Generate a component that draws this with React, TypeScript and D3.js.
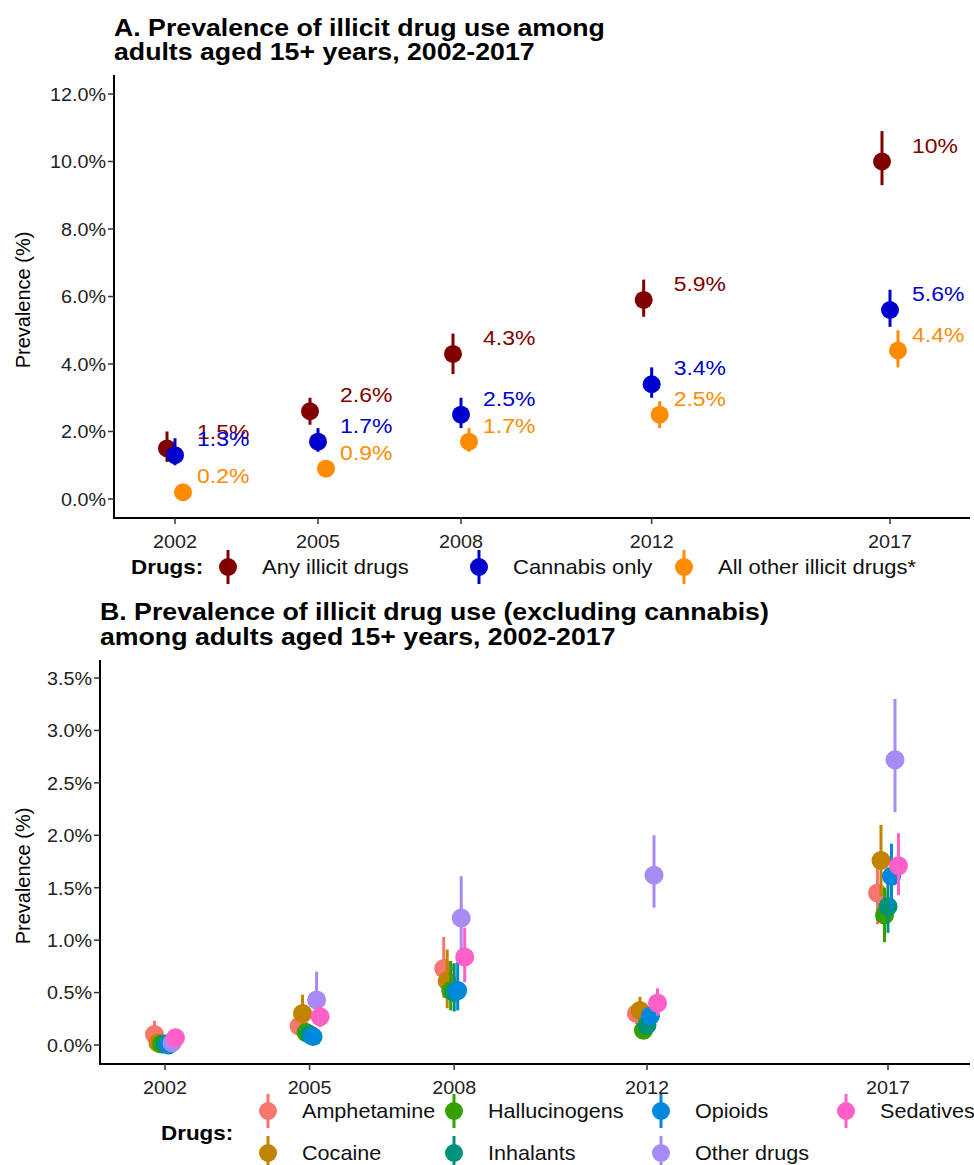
import * as d3 from "d3";
import type { ReactNode } from "react";

// ---- data ----
const years = [2002, 2005, 2008, 2012, 2017];

const seriesA = ["Any illicit drugs", "Cannabis only", "All other illicit drugs*"];
const colorsA = ["#800000", "#0000CD", "#FF8C00"];
const anyIllicit = [1.5, 2.6, 4.3, 5.9, 10.0];
const anyLow = [1.1, 2.2, 3.7, 5.4, 9.3];
const anyHigh = [2.0, 3.0, 4.9, 6.5, 10.9];
const cannabis = [1.3, 1.7, 2.5, 3.4, 5.6];
const cannabisLow = [1.0, 1.4, 2.1, 3.0, 5.1];
const cannabisHigh = [1.8, 2.1, 3.0, 3.9, 6.2];
const otherIllicit = [0.2, 0.9, 1.7, 2.5, 4.4];
const otherLow = [0.1, 0.8, 1.4, 2.1, 3.9];
const otherHigh = [0.3, 1.0, 2.1, 2.9, 5.0];
const labelsA = [
  ["1.5%", "2.6%", "4.3%", "5.9%", "10%"],
  ["1.3%", "1.7%", "2.5%", "3.4%", "5.6%"],
  ["0.2%", "0.9%", "1.7%", "2.5%", "4.4%"],
];
const ticksA = [0, 2, 4, 6, 8, 10, 12];

const seriesB = ["Amphetamine", "Cocaine", "Hallucinogens", "Inhalants", "Opioids", "Other drugs", "Sedatives"];
const colorsB = ["#F8766D", "#C08400", "#35A100", "#00937A", "#0088DD", "#A68BF5", "#FF5FC8"];
const amphetamine = [0.1, 0.18, 0.73, 0.3, 1.45];
const amphetamineLow = [0.0, 0.1, 0.45, 0.2, 1.15];
const amphetamineHigh = [0.23, 0.27, 1.03, 0.4, 1.75];
const cocaine = [0.02, 0.3, 0.61, 0.33, 1.76];
const cocaineLow = [0.0, 0.18, 0.35, 0.22, 1.42];
const cocaineHigh = [0.05, 0.48, 0.91, 0.46, 2.1];
const hallucinogens = [0.01, 0.12, 0.52, 0.14, 1.24];
const hallucinogensLow = [0.0, 0.06, 0.33, 0.08, 0.98];
const hallucinogensHigh = [0.03, 0.2, 0.8, 0.22, 1.5];
const inhalants = [0.01, 0.1, 0.5, 0.19, 1.32];
const inhalantsLow = [0.0, 0.05, 0.32, 0.12, 1.07];
const inhalantsHigh = [0.03, 0.18, 0.78, 0.28, 1.6];
const opioids = [0.0, 0.08, 0.52, 0.28, 1.61];
const opioidsLow = [0.0, 0.04, 0.33, 0.18, 1.3];
const opioidsHigh = [0.02, 0.15, 0.79, 0.38, 1.92];
const otherDrugs = [0.02, 0.43, 1.21, 1.62, 2.72];
const otherDrugsLow = [0.0, 0.2, 0.81, 1.31, 2.22];
const otherDrugsHigh = [0.05, 0.7, 1.61, 2.0, 3.3];
const sedatives = [0.07, 0.27, 0.84, 0.4, 1.71];
const sedativesLow = [0.02, 0.17, 0.6, 0.28, 1.43];
const sedativesHigh = [0.12, 0.38, 1.12, 0.54, 2.02];
const ticksB = [0, 0.5, 1, 1.5, 2, 2.5, 3, 3.5];

const FONT = "'Liberation Sans', Arial, Helvetica, sans-serif";

type Series = { name: string; color: string; val: number[]; lo: number[]; hi: number[] };

const dataA: Series[] = [
  { name: seriesA[0], color: colorsA[0], val: anyIllicit, lo: anyLow, hi: anyHigh },
  { name: seriesA[1], color: colorsA[1], val: cannabis, lo: cannabisLow, hi: cannabisHigh },
  { name: seriesA[2], color: colorsA[2], val: otherIllicit, lo: otherLow, hi: otherHigh },
];

const dataB: Series[] = [
  [amphetamine, amphetamineLow, amphetamineHigh],
  [cocaine, cocaineLow, cocaineHigh],
  [hallucinogens, hallucinogensLow, hallucinogensHigh],
  [inhalants, inhalantsLow, inhalantsHigh],
  [opioids, opioidsLow, opioidsHigh],
  [otherDrugs, otherDrugsLow, otherDrugsHigh],
  [sedatives, sedativesLow, sedativesHigh],
].map(([val, lo, hi], i) => ({ name: seriesB[i], color: colorsB[i], val, lo, hi }));

// the reference's text is a bit wider than Liberation Sans, so stretch it horizontally
function Txt({
  x, y, size, sx = 1, anchor = "start", bold = false, fill = "#111", children,
}: {
  x: number; y: number; size: number; sx?: number; anchor?: string; bold?: boolean; fill?: string; children: ReactNode;
}) {
  return (
    <text
      transform={`translate(${x},${y}) scale(${sx},1)`}
      fontFamily={FONT}
      fontSize={size}
      fontWeight={bold ? "bold" : "normal"}
      textAnchor={anchor}
      dominantBaseline="central"
      fill={fill}
    >
      {children}
    </text>
  );
}

function LegendKey({ x, y, color, r = 9 }: { x: number; y: number; color: string; r?: number }) {
  return (
    <g>
      <line x1={x} x2={x} y1={y - 17} y2={y + 17} stroke={color} strokeWidth={3} />
      <circle cx={x} cy={y} r={r} fill={color} />
    </g>
  );
}

function Axes({
  x, y, yTicks, left, right, top, bottom, titleY, fmt,
}: {
  x: d3.ScaleLinear<number, number>;
  y: d3.ScaleLinear<number, number>;
  yTicks: number[];
  left: number; right: number; top: number; bottom: number; titleY: number;
  fmt: (v: number) => string;
}) {
  return (
    <g>
      <line x1={left} x2={left} y1={top} y2={bottom + 1} stroke="#000" strokeWidth={2} />
      <line x1={left - 1} x2={right} y1={bottom} y2={bottom} stroke="#000" strokeWidth={2} />
      {yTicks.map((t) => (
        <g key={t}>
          <line x1={left - 6} x2={left} y1={y(t)} y2={y(t)} stroke="#333" strokeWidth={1.5} />
          <Txt x={left - 8} y={y(t)} size={19} sx={1.04} anchor="end" fill="#222">
            {fmt(t)}
          </Txt>
        </g>
      ))}
      {years.map((yr) => (
        <g key={yr}>
          <line x1={x(yr)} x2={x(yr)} y1={bottom} y2={bottom + 6} stroke="#333" strokeWidth={1.5} />
          <Txt x={x(yr)} y={bottom + 23} size={19} sx={1.04} anchor="middle" fill="#222">
            {yr}
          </Txt>
        </g>
      ))}
      <text
        transform={`translate(23, ${titleY}) rotate(-90)`}
        fontFamily={FONT}
        textAnchor="middle"
        dominantBaseline="central"
        fontSize={20}
        fill="#000"
      >
        Prevalence (%)
      </text>
    </g>
  );
}

function PanelA() {
  const left = 114, right = 970, top = 75, bottom = 518;
  const x = d3.scaleLinear().domain([2002, 2017]).range([175, 890]);
  const y = d3.scaleLinear().domain([0, 12]).range([499, 94]);
  const dodge = d3.scalePoint<number>().domain([0, 1, 2]).range([-8, 8]);
  const fmt = (v: number) => `${d3.format(".1f")(v)}%`;
  return (
    <g>
      <Txt x={114} y={27} size={24.5} sx={1.09} bold fill="#000">
        A. Prevalence of illicit drug use among
      </Txt>
      <Txt x={114} y={51} size={24.5} sx={1.09} bold fill="#000">
        adults aged 15+ years, 2002-2017
      </Txt>
      <Axes x={x} y={y} yTicks={ticksA} left={left} right={right} top={top} bottom={bottom} titleY={300} fmt={fmt} />
      {dataA.map((s, si) => (
        <g key={s.name}>
          {years.map((yr, i) => {
            const cx = x(yr) + (dodge(si) ?? 0);
            return (
              <g key={yr}>
                <line x1={cx} x2={cx} y1={y(s.lo[i])} y2={y(s.hi[i])} stroke={s.color} strokeWidth={3} />
                <circle cx={cx} cy={y(s.val[i])} r={9} fill={s.color} />
              </g>
            );
          })}
        </g>
      ))}
      {dataA.map((s, si) => (
        <g key={s.name + "lab"}>
          {years.map((yr, i) => (
            <Txt key={yr} x={x(yr) + 22} y={y(s.val[i]) - 16} size={20.5} sx={1.12} fill={s.color}>
              {labelsA[si][i]}
            </Txt>
          ))}
        </g>
      ))}
      <Txt x={131} y={567} size={20} sx={1.12} bold fill="#000">Drugs:</Txt>
      {[228, 479, 684].map((lx, i) => (
        <g key={i}>
          <LegendKey x={lx} y={567} color={colorsA[i]} />
          <Txt x={lx + 34} y={567} size={20} sx={1.1}>
            {seriesA[i]}
          </Txt>
        </g>
      ))}
    </g>
  );
}

function PanelB() {
  const left = 100, right = 970, top = 660, bottom = 1064;
  const x = d3.scaleLinear().domain([2002, 2017]).range([165, 888]);
  const y = d3.scaleLinear().domain([0, 3.5]).range([1045, 678]);
  const dodge = d3.scalePoint<number>().domain(d3.range(7)).range([-10.5, 10.5]);
  const fmt = (v: number) => `${d3.format(".1f")(v)}%`;
  const legendCols = [268, 454, 661, 846];
  const legendRows = [1111, 1153];
  return (
    <g>
      <Txt x={100} y={611} size={24.5} sx={1.09} bold fill="#000">
        B. Prevalence of illicit drug use (excluding cannabis)
      </Txt>
      <Txt x={100} y={636} size={24.5} sx={1.09} bold fill="#000">
        among adults aged 15+ years, 2002-2017
      </Txt>
      <Axes x={x} y={y} yTicks={ticksB} left={left} right={right} top={top} bottom={bottom} titleY={876} fmt={fmt} />
      {dataB.map((s, si) => (
        <g key={s.name}>
          {years.map((yr, i) => {
            const cx = x(yr) + (dodge(si) ?? 0);
            return (
              <g key={yr}>
                <line x1={cx} x2={cx} y1={y(s.lo[i])} y2={y(s.hi[i])} stroke={s.color} strokeWidth={3} />
                <circle cx={cx} cy={y(s.val[i])} r={9.5} fill={s.color} />
              </g>
            );
          })}
        </g>
      ))}
      <Txt x={161} y={1133} size={20} sx={1.12} bold fill="#000">Drugs:</Txt>
      {seriesB.map((name, i) => {
        const lx = legendCols[Math.floor(i / 2)];
        const ly = legendRows[i % 2];
        return (
          <g key={name}>
            <LegendKey x={lx} y={ly} color={colorsB[i]} />
            <Txt x={lx + 34} y={ly} size={20} sx={1.08}>
              {name}
            </Txt>
          </g>
        );
      })}
    </g>
  );
}

export default function App() {
  return (
    <svg
      width={974}
      height={1165}
      viewBox="0 0 974 1165"
      style={{ position: "absolute", left: 0, top: 0, background: "#fff" }}
    >
      <rect width={974} height={1165} fill="#fff" />
      <PanelA />
      <PanelB />
    </svg>
  );
}
